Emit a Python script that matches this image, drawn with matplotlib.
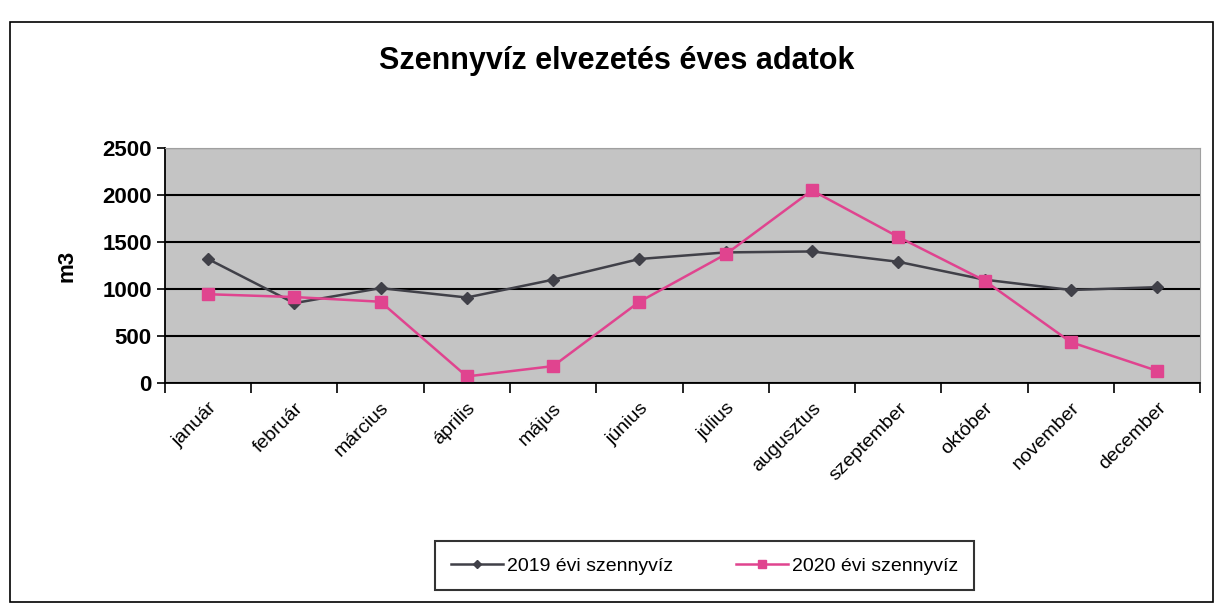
import matplotlib
matplotlib.use("Agg")
import matplotlib.pyplot as plt
from matplotlib.patches import Rectangle
import numpy as np

plt.rcParams['font.family'] = ['Liberation Sans', 'DejaVu Sans']

months = ["január", "február", "március", "április", "május", "június",
          "július", "augusztus", "szeptember", "október", "november", "december"]
v2019 = [1320, 850, 1010, 910, 1100, 1320, 1390, 1400, 1290, 1100, 990, 1020]
v2020 = [945, 915, 865, 70, 180, 865, 1370, 2050, 1555, 1090, 435, 130]
label2019 = "2019 évi szennyvíz"
label2020 = "2020 évi szennyvíz"

fig = plt.figure(figsize=(12.21, 6.07), dpi=100)
fig.patches.append(Rectangle((10 / 1221, 1 - 602 / 607), 1203 / 1221, 580 / 607,
                             transform=fig.transFigure, fill=False,
                             edgecolor="black", linewidth=1.2))

ax = fig.add_axes([0.135, 0.369, 0.848, 0.387])
ax.set_facecolor("#c4c4c4")
x = np.arange(len(months))

ax.plot(x, v2019, color="#404048", marker="D", markersize=6, linewidth=1.8, label=label2019)
ax.plot(x, v2020, color="#e0448f", marker="s", markersize=8, linewidth=1.8, label=label2020)

ax.set_ylim(0, 2500)
ax.set_yticks(np.arange(0, 2501, 500))
ax.yaxis.grid(True, color="black", linewidth=1.5)
ax.set_axisbelow(True)
ax.set_xlim(-0.5, len(months) - 0.5)
ax.set_xticks(x)
ax.set_xticklabels(months, rotation=45, ha="right", rotation_mode="anchor", fontsize=14)
ax.set_xticks(np.arange(-0.5, len(months)), minor=True)
ax.tick_params(axis="x", which="major", length=0, pad=12)
ax.tick_params(axis="x", which="minor", length=7, width=1.2)
ax.tick_params(axis="y", labelsize=16, length=6, width=1.2)
for lbl in ax.get_yticklabels():
    lbl.set_fontweight("bold")

for s in ["top", "right"]:
    ax.spines[s].set_color("#a0a0a0")
for s in ["left", "bottom"]:
    ax.spines[s].set_color("black")
    ax.spines[s].set_linewidth(1.3)

ax.set_ylabel("m3", fontsize=16, fontweight="bold", labelpad=18)
fig.text(0.505, 0.90, "Szennyvíz elvezetés éves adatok", ha="center", va="center",
         fontsize=22, fontweight="bold")

leg = fig.legend(loc="center", bbox_to_anchor=(0.577, 0.068), ncol=2, fontsize=14,
                 frameon=True, fancybox=False, edgecolor="black", handlelength=2.7,
                 handletextpad=0.2, columnspacing=3.2, borderpad=0.8, markerscale=0.7)
leg.get_frame().set_linewidth(1.5)

fig.savefig("out.png", dpi=100)
